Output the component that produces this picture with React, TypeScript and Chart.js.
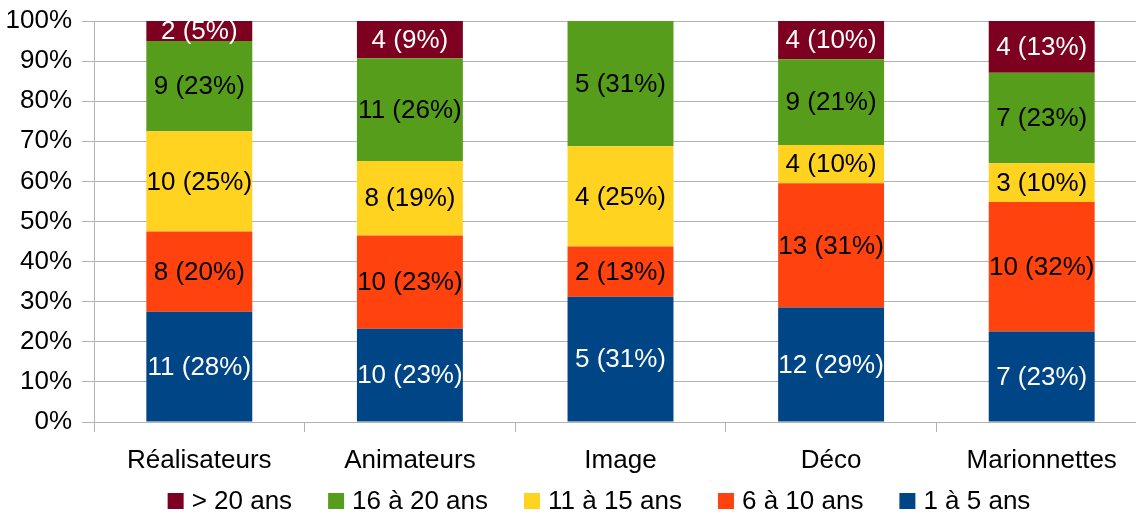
import React, { useEffect, useRef } from "react";
import { Chart, registerables } from "chart.js";

Chart.register(...registerables);

const categories = ["Réalisateurs", "Animateurs", "Image", "Déco", "Marionnettes"];
const seriesNames = ["1 à 5 ans", "6 à 10 ans", "11 à 15 ans", "16 à 20 ans", "> 20 ans"];
const ages1to5 = [11, 10, 5, 12, 7];
const ages6to10 = [8, 10, 2, 13, 10];
const ages11to15 = [10, 8, 4, 4, 3];
const ages16to20 = [9, 11, 5, 9, 7];
const agesOver20 = [2, 4, 0, 4, 4];
const yTickValues = [0, 10, 20, 30, 40, 50, 60, 70, 80, 90, 100];

const seriesCounts = [ages1to5, ages6to10, ages11to15, ages16to20, agesOver20];
const seriesColors = ["#004586", "#FF420E", "#FFD320", "#579D1C", "#7E0021"];
const labelColors = ["#ffffff", "#000000", "#000000", "#000000", "#ffffff"];

const FONT = "'Liberation Sans', Arial, sans-serif";
const GRID = "#b3b3b3";

const totals = categories.map((_, j) => seriesCounts.reduce((s, arr) => s + arr[j], 0));
const percentOf = (arr: number[]) => arr.map((v, j) => (v * 100) / totals[j]);

const barLabelPlugin = {
  id: "barLabels",
  afterDatasetsDraw(chart: any) {
    const ctx = chart.ctx;
    ctx.save();
    ctx.font = `26px ${FONT}`;
    ctx.textAlign = "center";
    ctx.textBaseline = "middle";
    chart.data.datasets.forEach((ds: any, i: number) => {
      const meta = chart.getDatasetMeta(i);
      meta.data.forEach((bar: any, j: number) => {
        const count = seriesCounts[i][j];
        if (!count) return;
        const pct = Math.round((count * 100) / totals[j]);
        const { x, y, base } = bar.getProps(["x", "y", "base"], true);
        ctx.fillStyle = labelColors[i];
        ctx.fillText(`${count} (${pct}%)`, x, (y + base) / 2 + 1);
      });
    });
    ctx.restore();
  },
};

const legendPlugin = {
  id: "customLegend",
  afterDraw(chart: any) {
    const ctx = chart.ctx;
    ctx.save();
    ctx.font = `26px ${FONT}`;
    ctx.textBaseline = "middle";
    ctx.textAlign = "left";
    const box = 16;
    const gap = 8;
    const spacing = 36;
    const order = [4, 3, 2, 1, 0];
    const widths = order.map((i) => box + gap + ctx.measureText(seriesNames[i]).width);
    const total = widths.reduce((a, b) => a + b, 0) + spacing * (order.length - 1);
    let x = 599 - total / 2;
    const cy = 502;
    order.forEach((i, k) => {
      ctx.fillStyle = seriesColors[i];
      ctx.fillRect(x, cy - box / 2 - 1, box, box);
      ctx.fillStyle = "#000000";
      ctx.fillText(seriesNames[i], x + box + gap, cy);
      x += widths[k] + spacing;
    });
    ctx.restore();
  },
};

export default function App() {
  const canvasRef = useRef<HTMLCanvasElement | null>(null);

  useEffect(() => {
    if (!canvasRef.current) return;
    const chart = new Chart(canvasRef.current, {
      type: "bar",
      data: {
        labels: categories,
        datasets: seriesCounts.map((arr, i) => ({
          label: seriesNames[i],
          data: percentOf(arr),
          backgroundColor: seriesColors[i],
          borderWidth: 0,
          categoryPercentage: 1,
          barPercentage: 0.503,
        })),
      },
      options: {
        responsive: false,
        animation: false,
        devicePixelRatio: 1,
        layout: { padding: { top: 21, left: 0, right: 0, bottom: 0 } },
        plugins: {
          legend: { display: false },
          tooltip: { enabled: false },
        },
        scales: {
          x: {
            stacked: true,
            grid: {
              display: true,
              drawOnChartArea: false,
              drawTicks: true,
              tickLength: 10,
              color: GRID,
              offset: true,
            },
            border: { display: true, color: GRID },
            ticks: {
              color: "#000000",
              font: { family: FONT, size: 26 },
              padding: 13,
              maxRotation: 0,
            },
            afterFit: (s: any) => {
              s.height = 93;
              s.paddingLeft = 0;
              s.paddingRight = 0;
            },
          },
          y: {
            stacked: true,
            min: 0,
            max: 100,
            afterBuildTicks: (s: any) => {
              s.ticks = yTickValues.map((v) => ({ value: v }));
            },
            ticks: {
              color: "#000000",
              font: { family: FONT, size: 26 },
              padding: 10,
              callback: (v: any) => `${v}%`,
            },
            grid: { color: GRID, tickLength: 12 },
            border: { display: true, color: GRID },
            afterFit: (s: any) => {
              s.width = 94;
              s.paddingTop = 0;
              s.paddingBottom = 0;
            },
          },
        },
      },
      plugins: [barLabelPlugin, legendPlugin],
    });
    return () => chart.destroy();
  }, []);

  return (
    <div
      style={{
        position: "absolute",
        left: 0,
        top: 0,
        width: 1136,
        height: 515,
        overflow: "hidden",
        background: "#ffffff",
      }}
    >
      <canvas ref={canvasRef} width={1147} height={515} style={{ display: "block" }} />
    </div>
  );
}
